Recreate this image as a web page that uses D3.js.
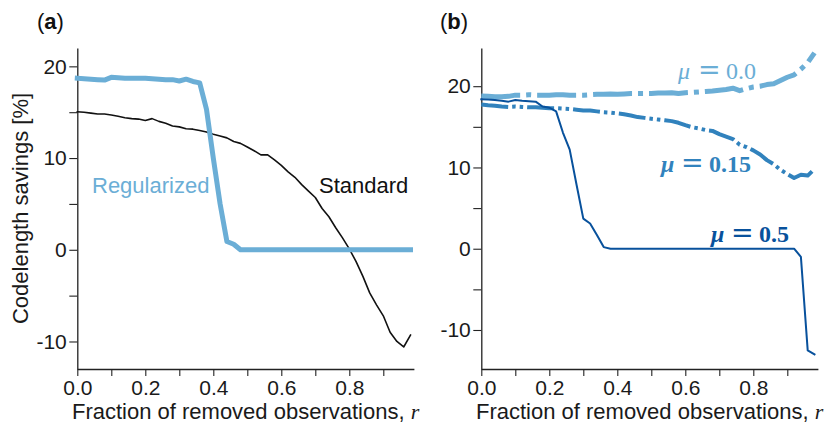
<!DOCTYPE html>
<html>
<head>
<meta charset="utf-8">
<script src="https://cdn.jsdelivr.net/npm/d3@7"></script>
<style>
  html, body { margin: 0; padding: 0; background: #fff; }
  svg { display: block; }
  text { font-family: "Liberation Sans", Arial, sans-serif; }
  .math { font-family: "Liberation Serif", "Times New Roman", serif; }
</style>
</head>
<body>
<svg id="chart" width="825" height="423"></svg>
<script>
// Fraction of removed observations (shared by every series)
const rValues = [0.00, 0.02, 0.04, 0.06, 0.08, 0.10, 0.12, 0.14, 0.16, 0.18,
                 0.20, 0.22, 0.24, 0.26, 0.28, 0.30, 0.32, 0.34, 0.36, 0.38,
                 0.40, 0.42, 0.44, 0.46, 0.48, 0.50, 0.52, 0.54, 0.56, 0.58,
                 0.60, 0.62, 0.64, 0.66, 0.68, 0.70, 0.72, 0.74, 0.76, 0.78,
                 0.80, 0.82, 0.84, 0.86, 0.88, 0.90, 0.92, 0.94, 0.96, 0.98];

// Panel (a): codelength savings [%]
const regularized = [18.7, 18.65, 18.6, 18.55, 18.5, 18.8, 18.75, 18.7, 18.7, 18.7,
                     18.7, 18.65, 18.6, 18.55, 18.55, 18.4, 18.6, 18.35, 18.2, 15.3,
                     10.0, 5.0, 0.9, 0.6, 0, 0, 0, 0, 0, 0,
                     0, 0, 0, 0, 0, 0, 0, 0, 0, 0,
                     0, 0, 0, 0, 0, 0, 0, 0, 0, 0];
const standard = [15.05, 15.0, 14.9, 14.8, 14.8, 14.7, 14.55, 14.4, 14.3, 14.25,
                  14.1, 14.3, 14.0, 13.8, 13.5, 13.4, 13.2, 13.15, 13.0, 12.85,
                  12.6, 12.4, 12.2, 11.8, 11.6, 11.2, 10.8, 10.35, 10.35, 9.8,
                  9.2, 8.5, 7.9, 7.1, 6.4, 5.7, 4.5, 3.6, 2.4, 1.3,
                  0.1, -1.3, -2.9, -4.7, -6.0, -7.2, -9.0, -10.0, -10.6, -9.3];

// Panel (b): savings for three regularization strengths
const mu00 = [18.8, 18.75, 18.7, 18.7, 18.75, 18.9, 18.9, 18.95, 18.9, 18.9,
              18.9, 18.95, 18.95, 18.9, 18.9, 18.9, 18.95, 19.0, 19.0, 19.05,
              19.0, 19.05, 19.1, 19.1, 19.1, 19.1, 19.15, 19.15, 19.2, 19.1,
              19.2, 19.25, 19.3, 19.35, 19.4, 19.5, 19.6, 19.75, 19.45, 19.7,
              19.9, 20.0, 20.2, 20.3, 20.7, 21.1, 21.4, 22.1, 22.9, 24.1];
const mu015 = [17.75, 17.65, 17.6, 17.5, 17.45, 17.5, 17.45, 17.4, 17.4, 17.35,
               17.3, 17.3, 17.25, 17.2, 17.1, 17.0, 17.0, 16.9, 16.8, 16.75,
               16.65, 16.55, 16.4, 16.2, 16.1, 16.0, 15.9, 15.8, 15.7, 15.5,
               15.2, 14.95, 14.8, 14.6, 14.5, 14.1, 13.8, 13.5, 12.8, 12.5,
               12.1, 11.6, 10.9, 10.4, 9.7, 9.2, 8.7, 9.1, 9.0, 9.8];
const mu05 = [18.4, 18.35, 18.3, 18.2, 18.1, 18.3, 18.2, 18.15, 18.1, 17.5,
              17.35, 16.9, 14.3, 12.2, 7.9, 3.7, 3.1, 1.7, 0.2, 0,
              0, 0, 0, 0, 0, 0, 0, 0, 0, 0,
              0, 0, 0, 0, 0, 0, 0, 0, 0, 0,
              0, 0, 0, 0, 0, 0, 0, -1.0, -12.5, -13.0];

// Axis ticks
const xTicks = [0.0, 0.1, 0.2, 0.3, 0.4, 0.5, 0.6, 0.7, 0.8, 0.9];
const xTickLabels = ["0.0", "", "0.2", "", "0.4", "", "0.6", "", "0.8", ""];
const yTicks = [-10, -5, 0, 5, 10, 15, 20];
const yTickLabels = ["-10", "", "0", "", "10", "", "20"];

const svg = d3.select("#chart");
const axisColor = "#222";

const xA = d3.scaleLinear().domain([0, 0.99]).range([77.3, 413.9]);
const yA = d3.scaleLinear().domain([-13, 22]).range([369, 48]);
const xB = d3.scaleLinear().domain([0, 0.99]).range([481.3, 817.9]);
const yB = d3.scaleLinear().domain([-14.8, 24.7]).range([369, 48]);

function drawAxes(x, y) {
  const gx = svg.append("g")
    .attr("transform", `translate(0,${y.range()[0]})`)
    .call(d3.axisBottom(x)
      .tickValues(xTicks)
      .tickFormat((d, i) => xTickLabels[i])
      .tickSize(7).tickSizeOuter(0).tickPadding(4));
  const gy = svg.append("g")
    .attr("transform", `translate(${x.range()[0]},0)`)
    .call(d3.axisLeft(y)
      .tickValues(yTicks)
      .tickFormat((d, i) => yTickLabels[i])
      .tickSize(8).tickSizeOuter(0).tickPadding(2.5));
  [gx, gy].forEach(g => {
    g.select(".domain").attr("stroke", axisColor).attr("stroke-width", 1.3);
    g.selectAll(".tick line").attr("stroke", axisColor).attr("stroke-width", 1.1);
    g.selectAll(".tick text")
      .attr("fill", "#1a1a1a")
      .style("font-family", '"Liberation Sans", Arial, sans-serif')
      .style("font-size", "21px");
  });
}

function drawSeries(x, y, values, style) {
  const line = d3.line()
    .x((d, i) => x(rValues[i]))
    .y(d => y(d));
  svg.append("path")
    .datum(values)
    .attr("d", line)
    .attr("fill", "none")
    .attr("stroke", style.color)
    .attr("stroke-width", style.width)
    .attr("stroke-linejoin", "round")
    .attr("stroke-linecap", style.dash ? "butt" : "square")
    .attr("stroke-dasharray", style.dash || null);
}

function xLabel(x) {
  const cx = (x.range()[0] + x.range()[1]) / 2;
  const t = svg.append("text")
    .attr("x", cx).attr("y", 419)
    .attr("text-anchor", "middle")
    .style("font-size", "22px")
    .attr("fill", "#1a1a1a");
  t.append("tspan").text("Fraction of removed observations, ");
  t.append("tspan").attr("class", "math")
    .style("font-style", "italic").text("r");
}

function panelTag(xPos, letter) {
  const t = svg.append("text")
    .attr("x", xPos).attr("y", 29)
    .style("font-size", "22px")
    .attr("fill", "#111");
  t.append("tspan").text("(");
  t.append("tspan").style("font-weight", "bold").text(letter);
  t.append("tspan").text(")");
}

// Math-style label: italic mu, a wide equals sign, upright digits
function muLabel(x0, y0, value, color, bold) {
  const g = svg.append("text")
    .attr("class", "math")
    .attr("y", y0)
    .style("font-size", "24px")
    .style("font-weight", bold ? "bold" : "normal")
    .attr("fill", color);
  g.append("tspan").attr("x", x0).style("font-style", "italic").text("μ");
  g.append("tspan").attr("x", x0 + 20)
    .style("font-family", '"DejaVu Serif", serif')
    .style("font-weight", "normal")
    .style("font-size", "27px")
    .text("=");
  g.append("tspan").attr("x", x0 + 48).text(value);
}

// ---- Panel (a) ----
drawAxes(xA, yA);
drawSeries(xA, yA, standard, { color: "#111", width: 1.6 });
drawSeries(xA, yA, regularized, { color: "#6baed6", width: 5 });
panelTag(37, "a");
xLabel(xA);
svg.append("text")
  .attr("transform", `translate(28,${(yA.range()[0] + yA.range()[1]) / 2}) rotate(-90)`)
  .attr("text-anchor", "middle")
  .style("font-size", "22px")
  .attr("fill", "#1a1a1a")
  .text("Codelength savings [%]");
svg.append("text")
  .attr("x", 92).attr("y", 193)
  .style("font-size", "22px")
  .attr("fill", "#6baed6")
  .text("Regularized");
svg.append("text")
  .attr("x", 319).attr("y", 193)
  .style("font-size", "22px")
  .attr("fill", "#111")
  .text("Standard");

// ---- Panel (b) ----
drawAxes(xB, yB);
drawSeries(xB, yB, mu00, { color: "#6baed6", width: 5, dash: "39,6,5,6" });
drawSeries(xB, yB, mu015, { color: "#3182bd", width: 4, dash: "27,4,3.5,4,3.5,4" });
drawSeries(xB, yB, mu05, { color: "#08519c", width: 2 });
panelTag(440, "b");
xLabel(xB);
muLabel(678, 79, "0.0", "#6baed6", false);
muLabel(661, 172, "0.15", "#3182bd", true);
muLabel(711, 242, "0.5", "#08519c", true);
</script>
</body>
</html>
